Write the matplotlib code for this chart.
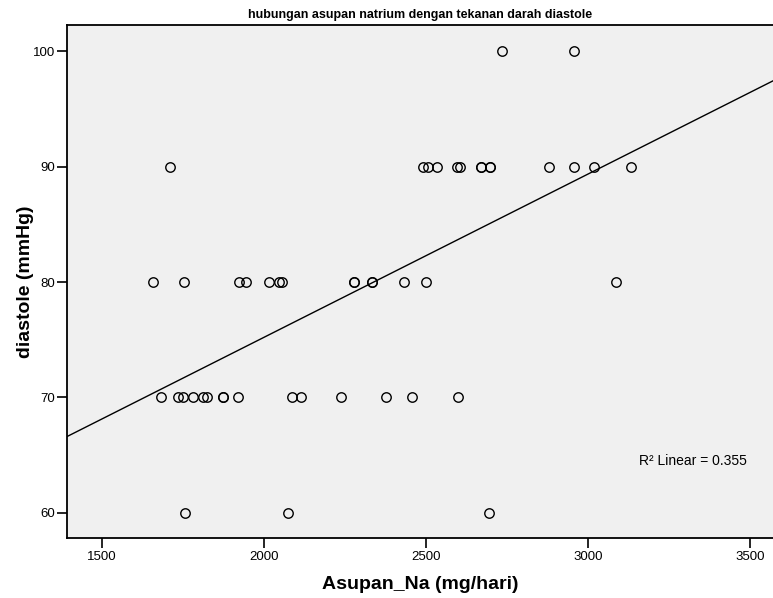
import numpy as np
import matplotlib.pyplot as plt

plt.rcParams['font.family'] = ['Liberation Sans', 'DejaVu Sans']

# asupan natrium (mg/hari) per level diastole
na_100 = [2733, 2958]
na_90 = [1710, 2490, 2506, 2534, 2595, 2604, 2670, 2670, 2696, 2696,
         2879, 2958, 3018, 3133]
na_80 = [1656, 1753, 1922, 1945, 2016, 2047, 2055, 2277, 2277, 2332,
         2332, 2431, 2499, 3087]
na_70 = [1681, 1733, 1748, 1780, 1810, 1823, 1874, 1874, 1920, 2085,
         2113, 2236, 2375, 2455, 2598]
na_60 = [1756, 2073, 2693]

x = np.array(na_100 + na_90 + na_80 + na_70 + na_60, dtype=float)
y = np.array([100] * len(na_100) + [90] * len(na_90) + [80] * len(na_80)
             + [70] * len(na_70) + [60] * len(na_60), dtype=float)

xlim = (1392, 3571)
ylim = (57.8, 102.3)

fig = plt.figure(figsize=(7.73, 5.98), dpi=100)
ax = fig.add_axes([0.087, 0.1003, 0.913, 0.858])
ax.set_facecolor('#f0f0f0')

ax.plot(x, y, 'o', mfc='none', mec='black', ms=6.8, mew=1.0, ls='none')

# garis regresi linear
b, a = np.polyfit(x, y, 1)
xl = np.array(xlim)
ax.plot(xl, a + b * xl, color='black', lw=1.0)

ax.text(3158, 64.5, 'R² Linear = 0.355', fontsize=10, va='center')

ax.set_xlim(xlim)
ax.set_ylim(ylim)
ax.set_xticks([1500, 2000, 2500, 3000, 3500])
ax.set_yticks([60, 70, 80, 90, 100])
ax.tick_params(direction='out', length=7, width=1.2, labelsize=9.5, pad=2)
for s in ['left', 'bottom', 'top']:
    ax.spines[s].set_linewidth(1.3)
ax.spines['right'].set_visible(False)

ax.set_xlabel('Asupan_Na (mg/hari)', fontsize=14, fontweight='bold', labelpad=10)
ax.set_ylabel('diastole (mmHg)', fontsize=14, fontweight='bold', labelpad=-1)
ax.set_title('hubungan asupan natrium dengan tekanan darah diastole',
             fontsize=9, fontweight='bold', pad=5)

plt.savefig('out.png', dpi=100)
